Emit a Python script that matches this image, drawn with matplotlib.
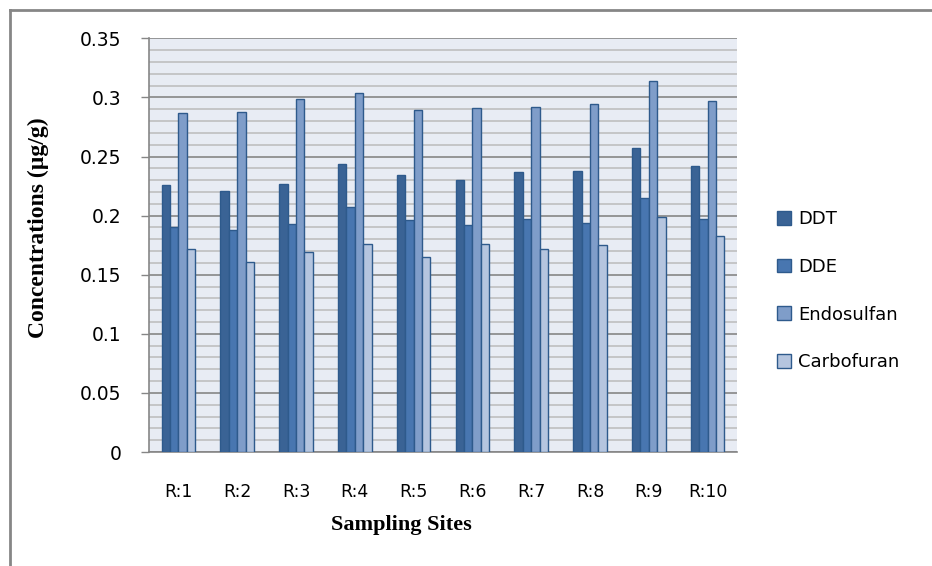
import matplotlib
matplotlib.use("Agg")
import matplotlib.pyplot as plt
import numpy as np
from matplotlib.lines import Line2D

sites = ["R:1", "R:2", "R:3", "R:4", "R:5", "R:6", "R:7", "R:8", "R:9", "R:10"]
ddt = [0.226, 0.221, 0.227, 0.244, 0.234, 0.230, 0.237, 0.238, 0.257, 0.242]
dde = [0.190, 0.188, 0.193, 0.207, 0.196, 0.192, 0.197, 0.194, 0.215, 0.197]
endosulfan = [0.287, 0.288, 0.299, 0.304, 0.289, 0.291, 0.292, 0.294, 0.314, 0.297]
carbofuran = [0.172, 0.161, 0.169, 0.176, 0.165, 0.176, 0.172, 0.175, 0.199, 0.183]
series_names = ["DDT", "DDE", "Endosulfan", "Carbofuran"]
yticks = [0, 0.05, 0.1, 0.15, 0.2, 0.25, 0.3, 0.35]
ytick_labels = ["0", "0.05", "0.1", "0.15", "0.2", "0.25", "0.3", "0.35"]

colors = ["#3A6395", "#4876B0", "#7F9DC9", "#B5C5DF"]
edge = "#2E5A8C"

W, H = 932, 566
fig = plt.figure(figsize=(W / 100, H / 100), dpi=100)
ax = fig.add_axes([149 / W, (H - 452) / H, (737 - 149) / W, (452 - 38.3) / H])
ax.set_facecolor("#E8ECF4")

x = np.arange(len(sites))
bw = 0.143
data = [ddt, dde, endosulfan, carbofuran]
for i, (vals, c) in enumerate(zip(data, colors)):
    ax.bar(x + (i - 1.5) * bw, vals, width=bw, color=c, edgecolor=edge,
           linewidth=1.0, label=series_names[i], zorder=3)

ax.set_xlim(-0.5, len(sites) - 0.5)
ax.set_ylim(0, 0.35)
ax.set_yticks(yticks)
ax.set_yticklabels(ytick_labels)
ax.set_yticks(np.arange(0, 0.3501, 0.01), minor=True)
ax.grid(True, axis="y", which="minor", color="#BBBBBB", linewidth=1.1, zorder=1)
ax.grid(True, axis="y", which="major", color="#868686", linewidth=1.2, zorder=2)
ax.set_xticks(x)
ax.set_xticklabels(sites)

for s in ["top", "right"]:
    ax.spines[s].set_visible(False)
ax.spines["left"].set_color("#868686")
ax.spines["bottom"].set_color("#868686")
ax.spines["left"].set_linewidth(1.2)
ax.spines["bottom"].set_linewidth(1.2)
ax.tick_params(axis="y", which="major", length=6, color="#868686", width=1,
               labelsize=13.5, pad=14)
ax.tick_params(axis="y", which="minor", length=0)
ax.tick_params(axis="x", length=0, labelsize=12.5, pad=22)
for t in ax.get_xticklabels() + ax.get_yticklabels():
    t.set_fontfamily("DejaVu Sans")

ax.set_xlabel("Sampling Sites", fontfamily="Liberation Serif", fontweight="bold",
              fontsize=16)
ax.set_ylabel("Concentrations (µg/g)", fontfamily="Liberation Serif",
              fontweight="bold", fontsize=17)
ax.xaxis.set_label_coords((401.5 - 149) / 588, -(525 - 452) / 413.7)
ax.xaxis.label.set_va("center")
ax.yaxis.set_label_coords(-(149 - 38) / 588, (452 - 228) / 413.7)
ax.yaxis.label.set_va("center")

leg = ax.legend(loc="center left", bbox_to_anchor=(1.04, 0.39), frameon=False,
                fontsize=13, handlelength=0.8, handleheight=0.8,
                labelspacing=1.65, handletextpad=0.4)

# figure border (top and left)
fig.add_artist(Line2D([9.5 / W, 1], [1 - 9.5 / H, 1 - 9.5 / H], color="#868686", lw=2))
fig.add_artist(Line2D([9.5 / W, 9.5 / W], [0, 1 - 9.5 / H], color="#868686", lw=2))

fig.savefig("out.png", dpi=100)
